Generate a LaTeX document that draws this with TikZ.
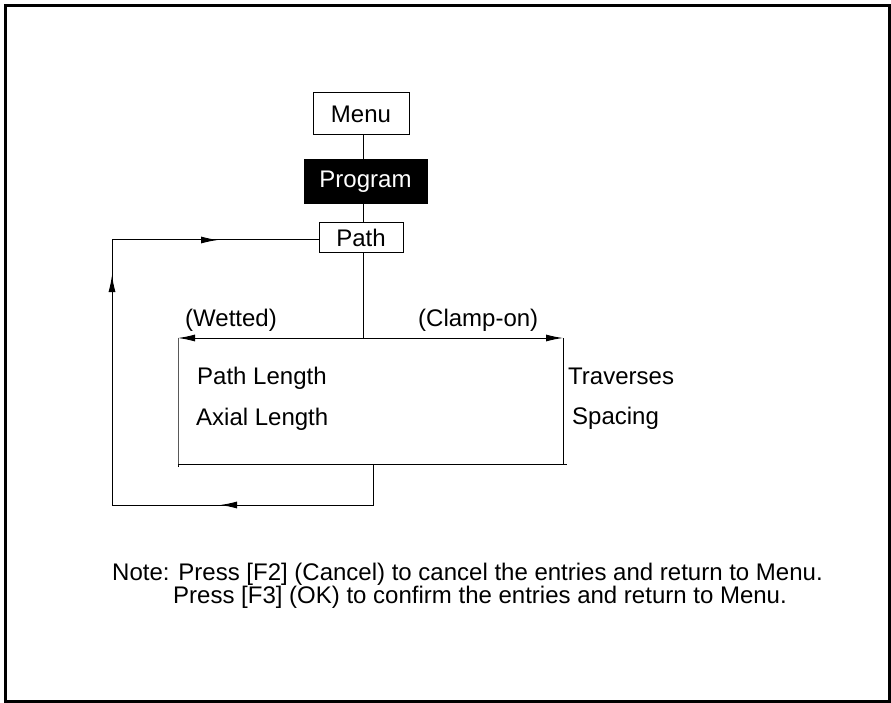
\documentclass[tikz,border=0pt]{standalone}
\usepackage{fontspec}
\setmainfont{Liberation Sans}
\usetikzlibrary{arrows.meta}
\begin{document}
\begin{tikzpicture}[x=1pt,y=-1pt,
  line/.style={draw=black,line width=1pt},
  tip/.style={-{Latex[length=17pt,width=7pt]}},
  box/.style={draw=black,line width=1pt,inner sep=0pt,anchor=center},
  lbl/.style={font=\fontsize{24}{28}\selectfont,inner sep=0pt,anchor=west},
  note/.style={font=\fontsize{24}{28}\selectfont,inner sep=0pt,anchor=west}]
\useasboundingbox (0,0) rectangle (891,703);
\draw[line width=3pt] (5.5,5.5) rectangle (889,701);
% boxes
\node[box,minimum width=96pt,minimum height=42pt,font=\fontsize{24}{28}\selectfont] (menu) at (361,114) {Menu};
\node[box,fill=black,text=white,minimum width=123pt,minimum height=44pt,font=\fontsize{24}{28}\selectfont] (prog) at (365.5,182) {Program};
\node[box,minimum width=84pt,minimum height=30pt,font=\fontsize{24}{28}\selectfont] (path) at (361,238) {Path};
% coordinates
\coordinate (split) at (363,338);
\coordinate (wl) at (178,338);
\coordinate (cr) at (563,338);
\coordinate (bl) at (178,464);
\coordinate (br) at (567,464);
\coordinate (brv) at (563,464);
\coordinate (bm) at (373,464);
\coordinate (lb) at (373,505);
\coordinate (llb) at (112,505);
\coordinate (llt) at (112,240);
% connectors
\draw[line] (split |- menu.south) -- (split |- prog.north);
\draw[line] (split |- prog.south) -- (split |- path.north);
\draw[line] (split |- path.south) -- (split);
\draw[line,tip] (split) -- (wl);
\draw[line,tip] (split) -- (cr);
\draw[line] (wl) -- (bl) -- ++(0,3);
\draw[line] (cr) -- (brv);
\draw[line] (bl) -- (br);
\draw[line] (bm) -- (lb) -- (llb) -- (llt) -- (llt -| path.west);
\draw[line,tip] (lb) -- (220,505);
\draw[line,tip] (llb) -- (112,275);
\draw[line,tip] (llt) -- (218,240);
% labels
\node[lbl] (wet) at (185,320) {(Wetted)};
\node[lbl] (clamp) at (418,320) {(Clamp-on)};
\node[lbl] (pl) at (197,378) {Path Length};
\node[lbl] (al) at (196,419) {Axial Length};
\node[lbl] (tr) at (568,376) {Traverses};
\node[lbl] (sp) at (572,418) {Spacing};
\node[note] (n1) at (112,574) {Note: Press [F2] (Cancel) to cancel the entries and return to Menu.};
\node[note] (n2) at (173,597) {Press [F3] (OK) to confirm the entries and return to Menu.};
\end{tikzpicture}
\end{document}
